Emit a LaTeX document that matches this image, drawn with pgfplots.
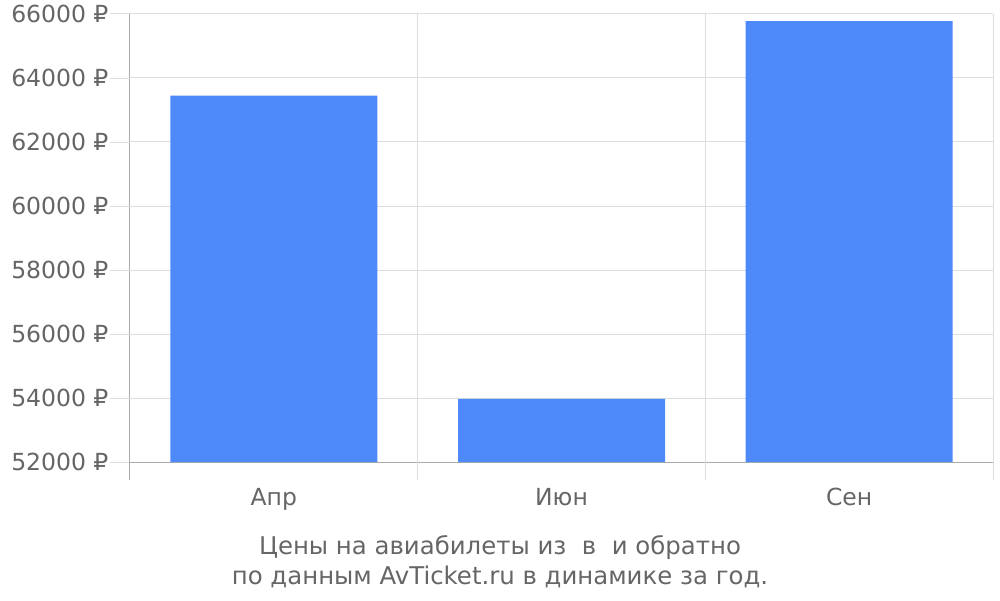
\documentclass[border=0pt]{standalone}
\usepackage{pgfplots}
\pgfplotsset{compat=1.18}
\usepackage{fontspec}
\setmainfont{DejaVu Sans}
\definecolor{txt}{HTML}{666666}
\definecolor{gridc}{HTML}{DDDDDD}
\definecolor{axc}{HTML}{AAAAAA}
\definecolor{barc}{HTML}{4D89F9}
\begin{document}
\begin{tikzpicture}
\begin{axis}[
    name=ax,
    scale only axis,
    width=863pt, height=448pt,
    xmin=0, xmax=3,
    ymin=52000, ymax=66000,
    axis x line*=bottom, axis y line*=left,
    axis line style={axc, line width=1pt, -},
    ytick={52000,54000,...,66000},
    scaled y ticks=false,
    xtick={0.5,1.5,2.5},
    xticklabels={Апр,Июн,Сен},
    minor xtick={0,1,2,3},
    xminorgrids=true, ymajorgrids=true,
    grid style={gridc, line width=1pt},
    minor grid style={gridc, line width=1pt},
    major tick length=0pt,
    minor tick length=0pt,
    /pgf/number format/assume math mode=true,
    /pgf/number format/1000 sep={},
    yticklabel={\pgfmathprintnumber[fixed]{\tick}~₽},
    ticklabel style={font=\fontsize{23.5}{28}\selectfont, text=txt},
    yticklabel style={xshift=-18pt},
    xticklabel style={yshift=-23pt},
    clip=false,
]
\addplot[ybar, bar width=207pt, fill=barc, draw=none, bar shift=0pt]
    coordinates {(0.5,63450) (1.5,53970) (2.5,65780)};
% tick extensions outside the axis
\pgfplotsinvokeforeach{0,1,2,3,4,5,6,7}{
    \draw[gridc, line width=1pt] (rel axis cs:0,#1/7) -- ([xshift=-20pt]rel axis cs:0,#1/7);
}
\pgfplotsinvokeforeach{0,1,2,3}{
    \draw[gridc, line width=1pt] (rel axis cs:#1/3,0) -- ([yshift=-18pt]rel axis cs:#1/3,0);
}
\draw[axc, line width=1pt] (rel axis cs:0,0) -- ([yshift=-18pt]rel axis cs:0,0);
\end{axis}
\node[text=txt, font=\fontsize{24.4}{29}\selectfont, anchor=center]
    at ([xshift=370pt,yshift=-86pt]ax.south west) {Цены на авиабилеты из\ \ в\ \ и обратно};
\node[text=txt, font=\fontsize{24.4}{29}\selectfont, anchor=center]
    at ([xshift=370pt,yshift=-115pt]ax.south west) {по данным AvTicket.ru в динамике за год.};
\pgfresetboundingbox
\useasboundingbox ([xshift=-130pt,yshift=-138pt]ax.south west) rectangle ++(1000pt,600pt);
\end{tikzpicture}
\end{document}
